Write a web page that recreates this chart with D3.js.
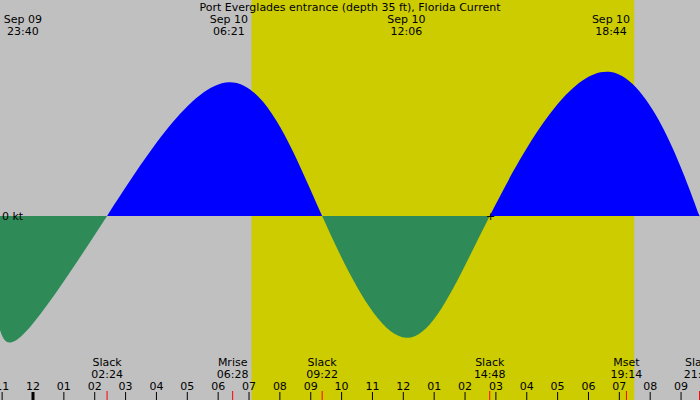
<!DOCTYPE html>
<html><head><meta charset="utf-8">
<script src="https://cdn.jsdelivr.net/npm/d3@7"></script>
<style>body{margin:0;background:#c0c0c0}text{font-family:"DejaVu Sans",sans-serif;font-size:11px;fill:#000}</style>
</head><body><svg id="chart" width="700" height="400"></svg>
<script>
// hours relative to midnight Sep 10, current in knots
const curveHours = [-1.1, -0.33, 2.4, 6.35, 9.37, 12.1, 14.8, 18.73, 21.6, 22];
const curveKnots = [-1.85, -1.98, 0, 2.23, 0, -2.03, 0, 2.4, 0, -0.35];
const topHours = [-0.33, 6.35, 12.1, 18.73];
const topDates = ["Sep 09", "Sep 10", "Sep 10", "Sep 10"];
const topTimes = ["23:40", "06:21", "12:06", "18:44"];
const eventHours = [2.4, 6.47, 9.37, 14.8, 19.23, 21.6];
const eventNames = ["Slack", "Mrise", "Slack", "Slack", "Mset", "Slack"];
const eventTimes = ["02:24", "06:28", "09:22", "14:48", "19:14", "21:36"];
const dayStart = 7.08, dayEnd = 19.48;
const hourLabels = ["11","12","01","02","03","04","05","06","07","08","09","10","11","12","01","02","03","04","05","06","07","08","09"];

const svg = d3.select("#chart");
const x = d3.scaleLinear().domain([0, 1]).range([33, 63.86]);
const y = d3.scaleLinear().domain([0, 1]).range([216, 156]);

svg.append("rect").attr("x", x(dayStart)).attr("y", 0)
    .attr("width", x(dayEnd) - x(dayStart)).attr("height", 400).attr("fill", "#cccc00");

const pts = curveHours.map((h, i) => [h, curveKnots[i]]);
const area = d3.area().x(d => x(d[0])).y0(y(0)).y1(d => y(d[1])).curve(d3.curveNatural);
const defs = svg.append("defs");
defs.append("clipPath").attr("id", "above").append("rect").attr("x", 0).attr("y", 0).attr("width", 700).attr("height", y(0));
defs.append("clipPath").attr("id", "below").append("rect").attr("x", 0).attr("y", y(0)).attr("width", 700).attr("height", 400);
svg.append("path").datum(pts).attr("d", area).attr("fill", "#0000ff").attr("clip-path", "url(#above)");
svg.append("path").datum(pts).attr("d", area).attr("fill", "#2e8b57").attr("clip-path", "url(#below)");

svg.append("text").attr("x", 2).attr("y", y(0) + 4).text("0 kt");
svg.append("text").attr("x", x(14.8) + 1).attr("y", y(0) + 4).attr("text-anchor", "middle").text("+");

svg.append("text").attr("x", 350).attr("y", 11).attr("text-anchor", "middle").text("Port Everglades entrance (depth 35 ft), Florida Current");
topHours.forEach((h, i) => {
    svg.append("text").attr("x", x(h)).attr("y", 23).attr("text-anchor", "middle").text(topDates[i]);
    svg.append("text").attr("x", x(h)).attr("y", 35).attr("text-anchor", "middle").text(topTimes[i]);
});

eventHours.forEach((h, i) => {
    svg.append("text").attr("x", x(h)).attr("y", 366).attr("text-anchor", "middle").text(eventNames[i]);
    svg.append("text").attr("x", x(h)).attr("y", 378).attr("text-anchor", "middle").text(eventTimes[i]);
    svg.append("line").attr("x1", x(h)).attr("x2", x(h)).attr("y1", 391).attr("y2", 400).attr("stroke", "#ff0000");
});

hourLabels.forEach((lab, i) => {
    const h = i - 1;
    svg.append("text").attr("x", x(h)).attr("y", 390).attr("text-anchor", "middle").text(lab);
    svg.append("line").attr("x1", x(h)).attr("x2", x(h)).attr("y1", 392).attr("y2", 400)
        .attr("stroke", "#000").attr("stroke-width", h === 0 ? 3 : 1);
});
</script></body></html>
